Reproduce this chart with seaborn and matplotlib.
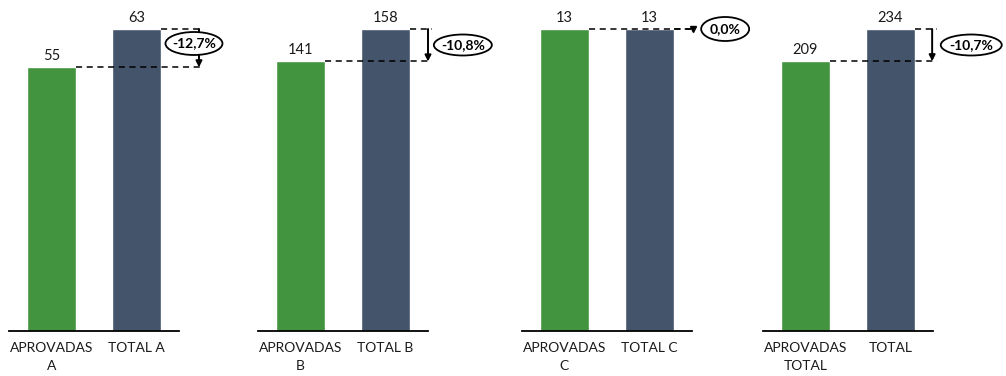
import matplotlib
matplotlib.use("Agg")
import matplotlib.pyplot as plt
from matplotlib.patches import Ellipse
import seaborn as sns
import pandas as pd

sns.set_theme(style="white")
plt.rcParams['font.family'] = ['Lato', 'DejaVu Sans']

# ---- data ----
categories = [["APROVADAS\nA", "TOTAL A"],
              ["APROVADAS\nB", "TOTAL B"],
              ["APROVADAS\nC", "TOTAL C"],
              ["APROVADAS\nTOTAL", "TOTAL"]]
aprovadas = [55, 141, 13, 209]
totais = [63, 158, 13, 234]

GREEN = "#43943F"
SLATE = "#44546A"

fig = plt.figure(figsize=(10.06, 3.76), dpi=100)
W, H = 1006, 376
lefts = [9, 258, 522, 763]
ax_w = 170
bottom_px = 331
top_px = 29
px_per_x = ax_w / 2.0

# annotation layout per panel
arrow_x = [1.735, 1.50, 1.51, 1.49]
ell_x = [1.676, 1.91, 1.89, 1.95]
ell_y_px = [43.5, 45, 29, 45]
ell_w_px = [57, 58, 48, 61]
ell_h_px = [23, 21, 24, 21]
line_end = [1.76, 1.55, 1.51, 1.55]

for i in range(4):
    ax = fig.add_axes([lefts[i] / W, (H - bottom_px) / H, ax_w / W, (bottom_px - top_px) / H])
    df = pd.DataFrame({"cat": categories[i], "val": [aprovadas[i], totais[i]]})
    sns.barplot(data=df, x="cat", y="val", hue="cat", palette=[GREEN, SLATE],
                legend=False, width=0.565, ax=ax, saturation=1)
    vmax = max(aprovadas[i], totais[i])
    ax.set_xlim(-0.5, 1.5)
    ax.set_ylim(0, vmax)
    ax.set_xlabel("")
    ax.set_ylabel("")
    ax.set_yticks([])
    for s in ["top", "right", "left"]:
        ax.spines[s].set_visible(False)
    ax.spines["bottom"].set_color("black")
    ax.spines["bottom"].set_linewidth(1.3)
    ax.tick_params(axis="x", length=0, pad=8, labelsize=10, labelcolor="#1a1a1a")
    for lab in ax.get_xticklabels():
        lab.set_linespacing(1.55)

    # value labels
    for j, v in enumerate([aprovadas[i], totais[i]]):
        ax.annotate(f"{v}", xy=(j, v), xytext=(0, 3), textcoords="offset points",
                    ha="center", va="bottom", fontsize=10.5, color="#1a1a1a",
                    annotation_clip=False)

    a, t = aprovadas[i], totais[i]
    half = 0.565 / 2
    # dashed reference lines
    ax.plot([0 + half, line_end[i]], [a, a], ls=(0, (4, 3)), color="black", lw=1.1, clip_on=False)
    ax.plot([1 + half, line_end[i]], [t, t], ls=(0, (4, 3)), color="black", lw=1.1, clip_on=False)

    pct = (a - t) / t * 100
    label = f"{pct:.1f}%".replace(".", ",")
    if t != a:
        ax.annotate("", xy=(arrow_x[i], a), xytext=(arrow_x[i], t),
                    arrowprops=dict(arrowstyle="-|>", color="black", lw=1.4,
                                    mutation_scale=9, shrinkA=0, shrinkB=0),
                    annotation_clip=False)
    else:
        ax.plot([arrow_x[i]], [t], marker="v", ms=4.5, color="black", clip_on=False)
    ey = (bottom_px - ell_y_px[i]) / (bottom_px - top_px) * vmax
    ell = Ellipse((ell_x[i], ey), width=ell_w_px[i] / px_per_x,
                  height=ell_h_px[i] / (bottom_px - top_px) * vmax,
                  transform=ax.transData, fc="white", ec="black", lw=1.3,
                  clip_on=False, zorder=5)
    ax.add_patch(ell)
    ax.text(ell_x[i], ey, label, ha="center", va="center", fontsize=10,
            fontweight="bold", color="black", clip_on=False, zorder=6)

fig.savefig("out.png", dpi=100)
